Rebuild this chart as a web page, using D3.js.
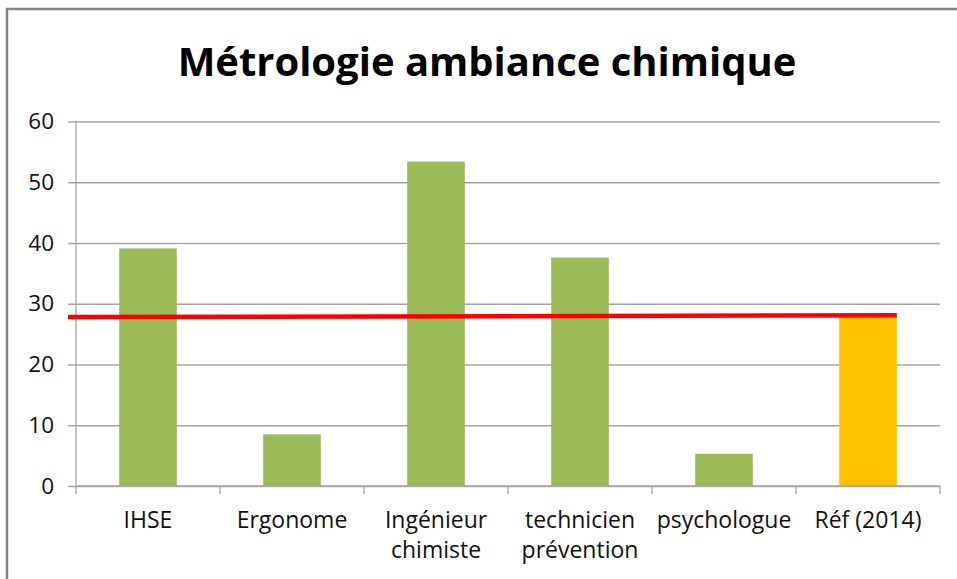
<!DOCTYPE html>
<html>
<head>
<meta charset="utf-8">
<script src="https://cdn.jsdelivr.net/npm/d3@7"></script>
<style>
  body { margin: 0; background: #fff; }
  svg { display: block; }
  text { font-family: "Open Sans", sans-serif; fill: #000; }
</style>
</head>
<body>
<script>
// Chart data
var categories = ["IHSE", "Ergonome", "Ingénieur\nchimiste", "technicien\nprévention", "psychologue", "Réf (2014)"];
var values = [39.1, 8.5, 53.4, 37.6, 5.3, 27.9];
var barColors = ["#9BBB59", "#9BBB59", "#9BBB59", "#9BBB59", "#9BBB59", "#FFC000"];
var refLine = [27.8, 28.1];
var yTicks = [0, 10, 20, 30, 40, 50, 60];

var svgWidth = 957;
var svgHeight = 579;

var margin = { top: 121.5, right: 17, bottom: 93, left: 76 };
var chartWidth = svgWidth - margin.left - margin.right;
var chartHeight = svgHeight - margin.top - margin.bottom;

var svg = d3.select("body")
    .append("svg")
    .attr("width", svgWidth)
    .attr("height", svgHeight);

// outer frame (right and bottom sides fall outside the picture)
svg.append("rect")
    .attr("x", 7)
    .attr("y", 9)
    .attr("width", svgWidth)
    .attr("height", svgHeight)
    .attr("fill", "#fff")
    .attr("stroke", "#878787")
    .attr("stroke-width", 2.5);

// title
var title = svg.append("text")
    .attr("x", 487)
    .attr("y", 76)
    .attr("text-anchor", "middle")
    .attr("font-weight", "bold")
    .attr("font-size", 40)
    .text("Métrologie ambiance chimique");
var tw = title.node().getComputedTextLength();
title.attr("font-size", 40 * 619 / tw);

var chartGroup = svg.append("g")
    .attr("transform", `translate(${margin.left},${margin.top})`);

var xScale = d3.scaleBand()
    .domain(categories)
    .range([0, chartWidth])
    .paddingInner(0.6)
    .paddingOuter(0.3);

var yScale = d3.scaleLinear()
    .domain([0, 60])
    .range([chartHeight, 0]);

// gridlines + y axis
var leftAxis = d3.axisLeft(yScale)
    .tickValues(yTicks)
    .tickSizeInner(-chartWidth)
    .tickSizeOuter(0)
    .tickFormat(d3.format("d"));

var yAxisG = chartGroup.append("g")
    .call(leftAxis);
yAxisG.select(".domain").remove();
yAxisG.selectAll(".tick line")
    .attr("x1", -8)
    .attr("stroke", "#a6a6a6")
    .attr("stroke-width", 1.3);
yAxisG.selectAll(".tick text")
    .attr("x", -22)
    .attr("font-size", 22.5)
    .attr("font-family", "Open Sans, sans-serif")
    .style("fill", "#111");

chartGroup.append("line")
    .attr("x1", 0).attr("x2", 0)
    .attr("y1", 0).attr("y2", chartHeight)
    .attr("stroke", "#a6a6a6")
    .attr("stroke-width", 1.3);

// bars
chartGroup.selectAll(".bar")
    .data(values)
    .enter()
    .append("rect")
    .attr("class", "bar")
    .attr("x", (d, i) => xScale(categories[i]))
    .attr("width", xScale.bandwidth())
    .attr("y", d => yScale(d))
    .attr("height", d => chartHeight - yScale(d))
    .attr("fill", (d, i) => barColors[i]);

// x axis with ticks at category boundaries
var step = xScale.step();
var boundaries = d3.range(categories.length + 1).map(i => i * step);
var xAxisG = chartGroup.append("g")
    .attr("transform", `translate(0,${chartHeight})`);
xAxisG.append("line")
    .attr("x1", 0).attr("x2", chartWidth)
    .attr("stroke", "#a6a6a6")
    .attr("stroke-width", 1.3);
xAxisG.selectAll(".xtick")
    .data(boundaries)
    .enter()
    .append("line")
    .attr("class", "xtick")
    .attr("x1", d => d).attr("x2", d => d)
    .attr("y1", 0).attr("y2", 8)
    .attr("stroke", "#a6a6a6")
    .attr("stroke-width", 1.3);

var labels = xAxisG.selectAll(".xlabel")
    .data(categories)
    .enter()
    .append("text")
    .attr("class", "xlabel")
    .attr("text-anchor", "middle")
    .attr("font-size", 23)
    .style("fill", "#111")
    .attr("transform", d => `translate(${xScale(d) + xScale.bandwidth() / 2},42)`);
labels.each(function (d) {
    var lines = d.split("\n");
    var t = d3.select(this);
    lines.forEach(function (line, j) {
        t.append("tspan")
            .attr("x", 0)
            .attr("y", j * 30)
            .text(line);
    });
});

// reference line (red)
var lastCat = categories[categories.length - 1];
chartGroup.append("line")
    .attr("x1", -8)
    .attr("y1", yScale(refLine[0]))
    .attr("x2", xScale(lastCat) + xScale.bandwidth())
    .attr("y2", yScale(refLine[1]))
    .attr("stroke", "#ff0000")
    .attr("stroke-width", 4.5);
</script>
</body>
</html>
